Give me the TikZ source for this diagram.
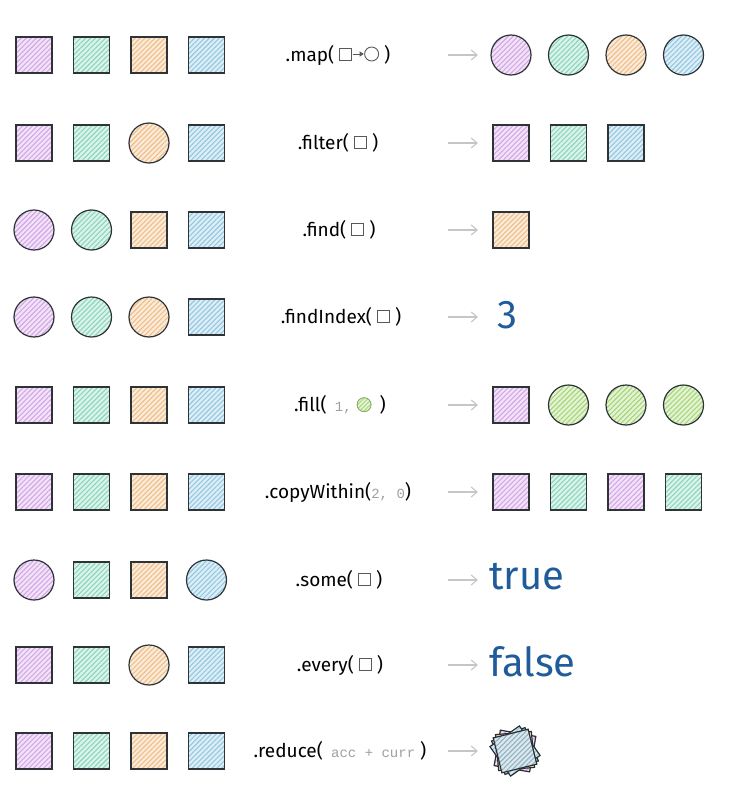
\documentclass[tikz,border=0pt]{standalone}
\usepackage{fontspec}
\setmainfont{Fira Sans}
\newfontfamily\codefont{Liberation Mono}
\usetikzlibrary{arrows.meta, patterns.meta}

\definecolor{hpurple}{HTML}{D4A6E6}
\definecolor{hteal}{HTML}{8AD6BD}
\definecolor{horange}{HTML}{F0BE86}
\definecolor{hblue}{HTML}{92C8E2}
\definecolor{hgreen}{HTML}{A6D676}
\definecolor{inkblue}{HTML}{1F5C99}
\definecolor{outline}{HTML}{2E3338}

% small glyphs used inside the method labels
\newcommand{\sqicon}{\tikz[baseline=-1pt]\draw[gray!70!black, line width=0.9pt] (0pt,0pt) rectangle (12pt,12pt);}
\newcommand{\ciicon}{\tikz[baseline=-1pt]\draw[gray!70!black, line width=0.9pt] (7pt,6pt) circle (7pt);}
\newcommand{\arricon}{\tikz[baseline=-1pt]\draw[gray!70!black, line width=0.9pt, -{Triangle[length=4pt,width=5pt]}] (0pt,6pt) -- (11pt,6pt);}
\newcommand{\grnicon}{\tikz[baseline=-1pt]\draw[hgreen!80!black, line width=0.9pt, preaction={fill=hgreen!30}, pattern={Lines[angle=45,distance=3pt,line width=0.8pt]}, pattern color=hgreen] (7pt,6pt) circle (7pt);}
\newcommand{\codearg}[1]{{\codefont\fontsize{14}{16}\selectfont\color{gray!75}#1}}

\begin{document}
\begin{tikzpicture}[x=1pt, y=-1pt,
    item/.style={draw=outline, line width=1.2pt, inner sep=0pt,
      preaction={fill=#1!30}, pattern={Lines[angle=45,distance=3.5pt,line width=1.1pt]}, pattern color=#1},
    sq item/.style={item=#1, rectangle, minimum size=36pt},
    ci item/.style={item=#1, circle, minimum size=40pt},
    method/.style={font=\fontsize{19}{22}\selectfont},
    result/.style={font=\fontsize{40}{44}\selectfont, text=inkblue, anchor=west},
    flow/.style={-{Straight Barb[length=6pt,width=10pt]}, gray!45, line width=1.1pt}]
    \useasboundingbox (0,0) rectangle (735,792);

    % input arrays
    \foreach \r/\yy/\items in {
        1/55/{sq/hpurple,sq/hteal,sq/horange,sq/hblue},
        2/143/{sq/hpurple,sq/hteal,ci/horange,sq/hblue},
        3/230/{ci/hpurple,ci/hteal,sq/horange,sq/hblue},
        4/317/{ci/hpurple,ci/hteal,ci/horange,sq/hblue},
        5/405/{sq/hpurple,sq/hteal,sq/horange,sq/hblue},
        6/492/{sq/hpurple,sq/hteal,sq/horange,sq/hblue},
        7/580/{ci/hpurple,sq/hteal,sq/horange,ci/hblue},
        8/665/{sq/hpurple,sq/hteal,ci/horange,sq/hblue},
        9/751/{sq/hpurple,sq/hteal,sq/horange,sq/hblue}}
      \foreach \s/\c [count=\i] in \items
        \node[\s\space item=\c] (in\r-\i) at ({34+57.5*(\i-1)}, \yy) {};

    % method calls
    \node[method] (m1) at (338,55) {.map( \sqicon\arricon\ciicon\ )};
    \node[method] (m2) at (338,143) {.filter( \sqicon\ )};
    \node[method] (m3) at (339,230) {.find( \sqicon\ )};
    \node[method] (m4) at (341,317) {.findIndex( \sqicon\ )};
    \node[method] (m5) at (340,405) {.fill(\, \codearg{1,} \grnicon\, )};
    \node[method] (m6) at (338,492) {.copyWithin(\codearg{2, 0})};
    \node[method] (m7) at (339,580) {.some( \sqicon\ )};
    \node[method] (m8) at (340,665) {.every( \sqicon\ )};
    \node[method] (m9) at (340,751) {.reduce(\, \codearg{acc + curr} )};

    % arrows
    \foreach \yy [count=\r] in {55,143,230,317,405,492,580,665,751} {
      \coordinate (t\r) at (448,\yy);
      \coordinate (h\r) at (478,\yy);
      \draw[flow] (t\r) -- (h\r);
    }

    % output arrays
    \foreach \r/\yy/\items in {
        1/55/{ci/hpurple,ci/hteal,ci/horange,ci/hblue},
        2/143/{sq/hpurple,sq/hteal,sq/hblue},
        3/230/{sq/horange},
        5/405/{sq/hpurple,ci/hgreen,ci/hgreen,ci/hgreen},
        6/492/{sq/hpurple,sq/hteal,sq/hpurple,sq/hteal}}
      \foreach \s/\c [count=\i] in \items
        \node[\s\space item=\c] (out\r-\i) at ({511+57.5*(\i-1)}, \yy) {};

    % single values
    \node[result] (res4) at (494,315) {3};
    \node[result] (res7) at (486,577) {true};
    \node[result] (res8) at (486,662) {false};

    % accumulated squares
    \foreach \ang/\c [count=\i] in {-10/hpurple, 22/hteal, 5/horange, 35/hblue, 14/hblue!70!gray}
      \node[sq item=\c, draw=outline!90!black, rotate=\ang] (acc\i) at (515,751) {};
\end{tikzpicture}
\end{document}
